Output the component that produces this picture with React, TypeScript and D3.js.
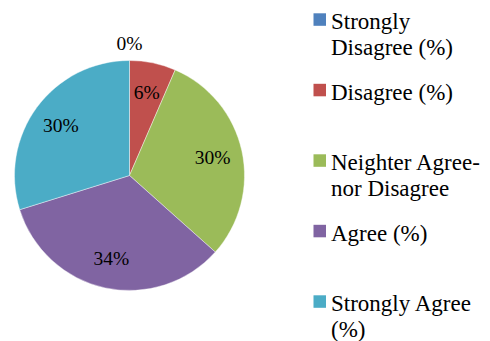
// Likert pie chart — serif rendering v7
import * as d3 from "d3";
import React from "react";

const FONT_FAMILY = '"Liberation Serif"';

const categories = [
  "Strongly Disagree (%)",
  "Disagree (%)",
  "Neighter Agree-nor Disagree",
  "Agree (%)",
  "Strongly Agree (%)",
];
const legendLines = [
  ["Strongly", "Disagree (%)"],
  ["Disagree (%)"],
  ["Neighter Agree-", "nor Disagree"],
  ["Agree (%)"],
  ["Strongly Agree", "(%)"],
];
const values = [0, 6.5, 30.1, 33.6, 29.8];
const valueLabels = ["0%", "6%", "30%", "34%", "30%"];
const colors = ["#4F81BD", "#C0504D", "#9BBB59", "#8064A2", "#4BACC6"];

const W = 490;
const H = 341;
const cx = 129.5;
const cy = 175.5;
const R = 115;

export default function App() {
  const pie = d3.pie<number>().sort(null).value((d) => d)(values);
  const arc = d3.arc<d3.PieArcDatum<number>>().innerRadius(0).outerRadius(R);
  const labelArc = d3
    .arc<d3.PieArcDatum<number>>()
    .innerRadius(R * 0.74)
    .outerRadius(R * 0.74);
  const outerLabelArc = d3
    .arc<d3.PieArcDatum<number>>()
    .innerRadius(R * 1.15)
    .outerRadius(R * 1.15);
  const color = d3.scaleOrdinal<string, string>().domain(categories).range(colors);
  const legendY = d3.scalePoint<string>().domain(categories).range([29, 311]);

  return (
    <svg width={W} height={H} style={{ position: "absolute", left: 0, top: 0 }}>
      <g transform={`translate(${cx},${cy})`}>
        {pie.map((p, i) => (
          <path
            key={i}
            d={arc(p) || ""}
            fill={color(categories[i])}
            stroke="#fff"
            strokeWidth={0.6}
            strokeOpacity={0.7}
          />
        ))}
        {pie.map((p, i) => {
          const [x, y] =
            p.endAngle - p.startAngle < 0.01 ? outerLabelArc.centroid(p) : labelArc.centroid(p);
          return (
            <text
              key={"l" + i}
              x={x}
              y={y}
              dy="0.35em"
              textAnchor="middle"
              style={{ fontFamily: FONT_FAMILY, fontSize: 19.5 }}
            >
              {valueLabels[i]}
            </text>
          );
        })}
      </g>
      {categories.map((c, i) => {
        const y0 = legendY(c) as number;
        return (
          <g key={"lg" + i}>
            <rect x={313.5} y={y0 - 15.7} width={12.5} height={12.5} fill={color(c)} />
            {legendLines[i].map((line, j) => (
              <text
                key={j}
                x={331}
                y={y0 + j * 26}
                style={{ fontFamily: FONT_FAMILY, fontSize: 23 }}
              >
                {line}
              </text>
            ))}
          </g>
        );
      })}
    </svg>
  );
}
